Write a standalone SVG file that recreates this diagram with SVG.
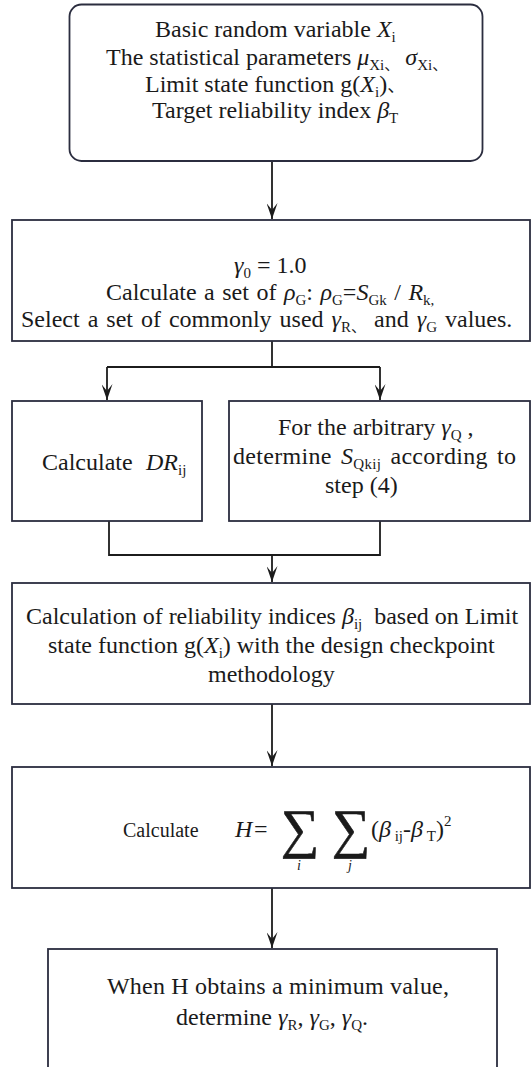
<svg xmlns="http://www.w3.org/2000/svg" width="531" height="1067" viewBox="0 0 531 1067">
<style>
.box{fill:#ffffff;stroke:#2b2d3f;stroke-width:1.8}
.con{fill:none;stroke:#1c1c1c;stroke-width:1.8}
.it{font-style:italic}
</style>
<defs>
<marker id="arr" viewBox="0 0 16 11" refX="16" refY="5.5" markerWidth="16" markerHeight="11" orient="auto" markerUnits="userSpaceOnUse">
<path d="M0,0 L16,5.5 L0,11 L7,5.5 Z" fill="#1c1c1c"/>
</marker>
</defs>
<rect width="531" height="1067" fill="#ffffff"/>

<g id="connectors">
<line class="con" x1="272" y1="161" x2="272" y2="219" marker-end="url(#arr)"/>
<polyline class="con" points="272,341 272,367"/>
<polyline class="con" points="107,367 380,367"/>
<line class="con" x1="107" y1="367" x2="107" y2="400" marker-end="url(#arr)"/>
<line class="con" x1="380" y1="367" x2="380" y2="400" marker-end="url(#arr)"/>
<polyline class="con" points="109,521 109,555 380,555 380,521"/>
<line class="con" x1="272" y1="555" x2="272" y2="582" marker-end="url(#arr)"/>
<line class="con" x1="272" y1="704" x2="272" y2="766" marker-end="url(#arr)"/>
<line class="con" x1="272" y1="888" x2="272" y2="948" marker-end="url(#arr)"/>
</g>

<g font-family="Liberation Serif, Noto Sans CJK SC, serif" font-size="24" fill="#1a1a1a">
<g id="n1">
<rect class="box" x="69.5" y="4.5" width="413" height="156.5" rx="12"/>
<text x="155" y="37">Basic random variable <tspan class="it">X</tspan><tspan font-size="15" dy="5">i</tspan></text>
<text x="106" y="65">The statistical parameters <tspan class="it">μ</tspan><tspan font-size="15" dy="5">Xi、</tspan><tspan dy="-5"> </tspan><tspan class="it">σ</tspan><tspan font-size="15" dy="5">Xi、</tspan></text>
<text x="145" y="92">Limit state function g(<tspan class="it">X</tspan><tspan font-size="15" dy="5">i</tspan><tspan dy="-5">)</tspan><tspan font-size="18">、</tspan></text>
<text x="152" y="118">Target reliability index <tspan class="it">β</tspan><tspan font-size="15" dy="5">T</tspan></text>
</g>

<g id="n2">
<rect class="box" x="12" y="220" width="518" height="121"/>
<text x="234" y="273"><tspan class="it">γ</tspan><tspan font-size="15" dy="5">0</tspan><tspan dy="-5"> = 1.0</tspan></text>
<text x="106" y="300" word-spacing="1.5">Calculate a set of <tspan class="it">ρ</tspan><tspan font-size="15" dy="5">G</tspan><tspan dy="-5">: </tspan><tspan class="it">ρ</tspan><tspan font-size="15" dy="5">G</tspan><tspan dy="-5">=</tspan><tspan class="it">S</tspan><tspan font-size="15" dy="5">Gk</tspan><tspan dy="-5"> / </tspan><tspan class="it">R</tspan><tspan font-size="15" dy="5">k,</tspan></text>
<text x="21" y="327" word-spacing="2">Select a set of commonly used <tspan class="it">γ</tspan><tspan font-size="15" dy="5">R、</tspan><tspan dy="-5"> and </tspan><tspan class="it">γ</tspan><tspan font-size="15" dy="5">G</tspan><tspan dy="-5"> values.</tspan></text>
</g>

<g id="n3">
<rect class="box" x="12" y="401" width="190" height="120"/>
<text x="42" y="470">Calculate <tspan class="it" x="146">DR</tspan><tspan font-size="15" dy="5">ij</tspan></text>
</g>

<g id="n4">
<rect class="box" x="229" y="401" width="301" height="120"/>
<text x="278" y="435">For the arbitrary <tspan class="it">γ</tspan><tspan font-size="15" dy="5">Q</tspan><tspan dy="-5"> ,</tspan></text>
<text x="233" y="464" word-spacing="3" letter-spacing="0.3">determine <tspan class="it">S</tspan><tspan font-size="15" dy="5">Qkij</tspan><tspan dy="-5"> according to</tspan></text>
<text x="325" y="493">step (4)</text>
</g>

<g id="n5">
<rect class="box" x="12" y="583" width="518" height="121"/>
<text x="26" y="624">Calculation of reliability indices <tspan class="it">β</tspan><tspan font-size="15" dy="5">ij</tspan><tspan dy="-5" xml:space="preserve">  based on Limit</tspan></text>
<text x="48" y="653">state function g(<tspan class="it">X</tspan><tspan font-size="15" dy="5">i</tspan><tspan dy="-5">) with the design checkpoint</tspan></text>
<text x="208" y="682">methodology</text>
</g>

<g id="n6">
<rect class="box" x="12" y="767" width="518" height="121"/>
<text x="123" y="837" font-size="20">Calculate</text>
<text class="it" x="235" y="837">H</text>
<text x="254" y="837">=</text>
<text x="281" y="847" font-size="54" stroke="#1a1a1a" stroke-width="0.6">∑</text>
<text class="it" x="297" y="870" font-size="14">i</text>
<text x="332" y="847" font-size="54" stroke="#1a1a1a" stroke-width="0.6">∑</text>
<text class="it" x="348" y="870" font-size="14">j</text>
<text x="371" y="837">(<tspan class="it">β</tspan><tspan font-size="15" dy="4"> ij</tspan><tspan dy="-4">-</tspan><tspan class="it">β</tspan><tspan font-size="15" dy="4"> T</tspan><tspan dy="-4">)</tspan><tspan font-size="15" dy="-11">2</tspan></text>
</g>

<g id="n7">
<rect class="box" x="48" y="949" width="449" height="130"/>
<text x="107" y="994" letter-spacing="0.2">When H obtains a minimum value,</text>
<text x="176" y="1025">determine <tspan class="it">γ</tspan><tspan font-size="15" dy="5">R</tspan><tspan dy="-5">, </tspan><tspan class="it">γ</tspan><tspan font-size="15" dy="5">G</tspan><tspan dy="-5">, </tspan><tspan class="it">γ</tspan><tspan font-size="15" dy="5">Q</tspan><tspan dy="-5">.</tspan></text>
</g>
</g>
</svg>
